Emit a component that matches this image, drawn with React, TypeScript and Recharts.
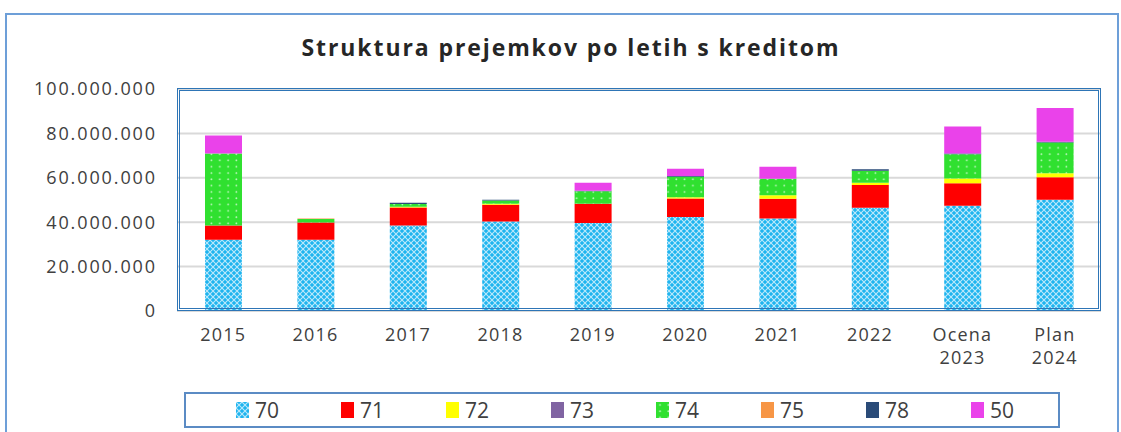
import React from 'react';
import { BarChart, Bar, XAxis, YAxis, CartesianGrid } from 'recharts';

const categories = ['2015', '2016', '2017', '2018', '2019', '2020', '2021', '2022', 'Ocena\n2023', 'Plan\n2024'];
const s70 = [32100000, 32100000, 38500000, 40300000, 39600000, 42300000, 41700000, 46500000, 47400000, 50100000];
const s71 = [6400000, 7800000, 8100000, 7600000, 8700000, 8400000, 8900000, 10300000, 10100000, 10100000];
const s72 = [0, 0, 400000, 400000, 0, 500000, 1500000, 1000000, 2200000, 1800000];
const s73 = [0, 0, 0, 0, 0, 0, 0, 0, 0, 0];
const s74 = [32500000, 1500000, 1200000, 1500000, 5600000, 9300000, 7500000, 5400000, 10900000, 13900000];
const s75 = [0, 300000, 0, 0, 0, 0, 0, 0, 0, 0];
const s78 = [0, 0, 600000, 300000, 300000, 300000, 0, 600000, 300000, 300000];
const s50 = [8000000, 0, 0, 0, 3600000, 3300000, 5400000, 0, 12200000, 15200000];
const yTicks = [0, 20000000, 40000000, 60000000, 80000000, 100000000];
const title = 'Struktura prejemkov po letih s kreditom';

const series = [
  { key: '70', values: s70, fill: 'url(#p70)' },
  { key: '71', values: s71, fill: '#ff0000' },
  { key: '72', values: s72, fill: '#ffff00' },
  { key: '73', values: s73, fill: '#8064a2' },
  { key: '74', values: s74, fill: 'url(#p74)' },
  { key: '75', values: s75, fill: '#f79646' },
  { key: '78', values: s78, fill: '#2a4b78' },
  { key: '50', values: s50, fill: '#ea42ea' },
];

const data = categories.map((c, i) => {
  const row: any = { name: c };
  series.forEach((s) => { row[s.key] = s.values[i]; });
  return row;
});

const FONT = '"Open Sans", sans-serif';
const TXT = '#404040';

const fmt = (v: number) => (v === 0 ? '0' : v.toLocaleString('de-DE'));

const XTick = (props: any) => {
  const { x, y, payload } = props;
  const lines = String(payload.value).split('\n');
  return (
    <text x={x} y={y} textAnchor="middle" fill={TXT} fontFamily={FONT} fontSize={18} letterSpacing={1.2}>
      {lines.map((l, i) => (
        <tspan key={i} x={x} dy={i === 0 ? 22 : 23}>{l}</tspan>
      ))}
    </text>
  );
};

export default function App() {
  return (
    <div style={{ position: 'absolute', left: 0, top: 0, width: 1121, height: 432, background: '#fff', overflow: 'hidden' }}>
      <svg width={0} height={0} style={{ position: 'absolute' }}>
        <defs>
          <pattern id="p70" width={6} height={6} patternUnits="userSpaceOnUse">
            <rect width={6} height={6} fill="#1eb4ef" />
            <path d="M0,0 L6,6 M6,0 L0,6" stroke="#ffffff" strokeOpacity={0.7} strokeWidth={1.1} />
          </pattern>
          <pattern id="p74" width={8.3} height={6.3} patternUnits="userSpaceOnUse">
            <rect width={8.3} height={6.3} fill="#30e030" />
            <circle cx={4} cy={3} r={0.9} fill="#ffffff" fillOpacity={0.7} />
          </pattern>
        </defs>
      </svg>
      <div style={{ position: 'absolute', left: 5, top: 13, width: 1110, height: 440, borderTop: '2px solid #6d9fd8', borderLeft: '2px solid #6d9fd8', borderRight: '2px solid #6d9fd8' }} />
      <svg width={1121} height={80} style={{ position: 'absolute', left: 0, top: 0 }}>
        <text x={571} y={56} textAnchor="middle" fontFamily={FONT} fontWeight={700} fontSize={23} letterSpacing={1.9} fill="#262626">{title}</text>
      </svg>
      <div style={{ position: 'absolute', left: 0, top: 0 }}>
        <BarChart width={1121} height={432} data={data} margin={{ top: 89, right: 20, left: 0, bottom: 61 }} barCategoryGap={0}>
          <CartesianGrid horizontal vertical={false} stroke="#d9d9d9" strokeWidth={2} />
          <XAxis dataKey="name" height={60} axisLine={false} tickLine={false} tick={<XTick />} interval={0} />
          <YAxis width={177} domain={[0, 100000000]} ticks={yTicks} axisLine={false} tickLine={false} tickMargin={14}
            tickFormatter={fmt} tick={{ fill: TXT, fontFamily: FONT, fontSize: 18, letterSpacing: 1.9 }} />
          {series.map((s) => (
            <Bar key={s.key} dataKey={s.key} stackId="a" fill={s.fill} barSize={37} isAnimationActive={false} />
          ))}
        </BarChart>
      </div>
      <div style={{ position: 'absolute', left: 177, top: 88, width: 924, height: 223, border: '3px double #2e75b6', boxSizing: 'border-box', pointerEvents: 'none' }} />
      <div style={{ position: 'absolute', left: 184, top: 392, width: 876, height: 36, border: '2px solid #5b8bc4', boxSizing: 'border-box' }} />
      <div style={{ position: 'absolute', left: 236, top: 396, display: 'flex', fontFamily: FONT, fontSize: 21, color: TXT }}>
        {series.map((s) => (
          <div key={s.key} style={{ width: 105, display: 'flex', alignItems: 'center', height: 28 }}>
            <svg width={13} height={16} style={{ marginRight: 6 }}>
              <rect width={13} height={16} fill={s.fill} />
            </svg>
            <span>{s.key}</span>
          </div>
        ))}
      </div>
    </div>
  );
}
